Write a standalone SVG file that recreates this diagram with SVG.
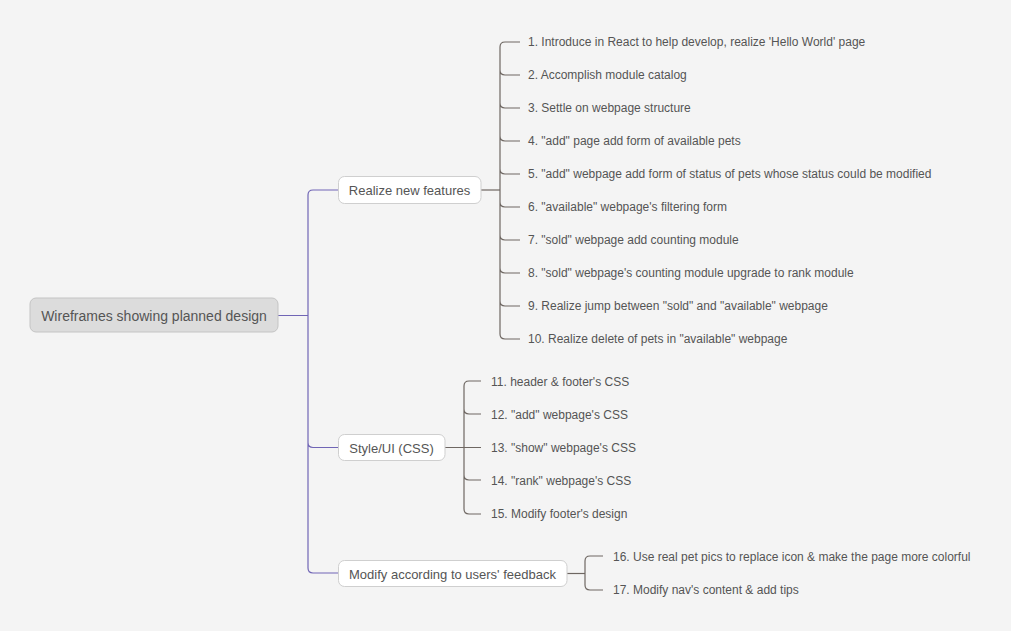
<svg xmlns="http://www.w3.org/2000/svg" width="1011" height="631" viewBox="0 0 1011 631">
<style>
text{font-family:"Liberation Sans",Arial,sans-serif;fill:#555;}
.item{font-size:12px;}
.sub{font-size:13px;text-anchor:middle;}
.root{font-size:14px;text-anchor:middle;}
.box{fill:#fff;stroke:#cfcfcf;stroke-width:1;}
.rootbox{fill:#dcdcdc;stroke:#c4c4c4;stroke-width:1;}
.p{fill:none;stroke:#7065b5;stroke-width:1.2;}
.g{fill:none;stroke:#6e6762;stroke-width:1.2;}
</style>
<rect width="1011" height="631" fill="#f4f4f4"/>
<g id="connectors">
<path class="p" d="M278 315.5 H308 M338 190 H313 Q308 190 308 195 V568 Q308 573 313 573 H338 M308 447.5 V442.5 Q308 447.5 313 447.5 H338"/>
<path class="g" d="M481 190 H500"/>
<path class="g" d="M520 42 H505 Q500 42 500 47 V334 Q500 339 505 339 H520 M500 75 V70 Q500 75 505 75 H520 M500 108 V103 Q500 108 505 108 H520 M500 141 V136 Q500 141 505 141 H520 M500 174 V169 Q500 174 505 174 H520 M500 207 V202 Q500 207 505 207 H520 M500 240 V235 Q500 240 505 240 H520 M500 273 V268 Q500 273 505 273 H520 M500 306 V301 Q500 306 505 306 H520"/>
<path class="g" d="M445 447.5 H481"/>
<path class="g" d="M481 381 H469 Q464 381 464 386 V509 Q464 514 469 514 H481 M464 414 V409 Q464 414 469 414 H481 M464 480 V475 Q464 480 469 480 H481"/>
<path class="g" d="M567 573.5 H585"/>
<path class="g" d="M603 556 H590 Q585 556 585 561 V585 Q585 590 590 590 H603"/>
</g>
<g id="root">
<rect class="rootbox" x="30" y="298" width="248" height="34" rx="6"/>
<text class="root" x="154" y="320.5">Wireframes showing planned design</text>
</g>
<g id="realize">
<rect class="box" x="338.5" y="176.5" width="142.5" height="27" rx="6"/>
<text class="sub" x="409.5" y="195">Realize new features</text>
</g>
<g id="style">
<rect class="box" x="338.5" y="434.5" width="106.5" height="26" rx="6"/>
<text class="sub" x="391.5" y="452.5">Style/UI (CSS)</text>
</g>
<g id="modify">
<rect class="box" x="338.5" y="560.5" width="228.5" height="26" rx="6"/>
<text class="sub" x="452.5" y="578.5">Modify according to users' feedback</text>
</g>
<g id="items1">
<text class="item" x="528" y="46">1. Introduce in React to help develop, realize 'Hello World' page</text>
<text class="item" x="528" y="79">2. Accomplish module catalog</text>
<text class="item" x="528" y="112">3. Settle on webpage structure</text>
<text class="item" x="528" y="145">4. "add" page add form of available pets</text>
<text class="item" x="528" y="178">5. "add" webpage add form of status of pets whose status could be modified</text>
<text class="item" x="528" y="211">6. "available" webpage's filtering form</text>
<text class="item" x="528" y="244">7. "sold" webpage add counting module</text>
<text class="item" x="528" y="277">8. "sold" webpage's counting module upgrade to rank module</text>
<text class="item" x="528" y="310">9. Realize jump between "sold" and "available" webpage</text>
<text class="item" x="528" y="343">10. Realize delete of pets in "available" webpage</text>
</g>
<g id="items2">
<text class="item" x="491" y="386">11. header &amp; footer's CSS</text>
<text class="item" x="491" y="419">12. "add" webpage's CSS</text>
<text class="item" x="491" y="452">13. "show" webpage's CSS</text>
<text class="item" x="491" y="485">14. "rank" webpage's CSS</text>
<text class="item" x="491" y="518">15. Modify footer's design</text>
</g>
<g id="items3">
<text class="item" x="613" y="561">16. Use real pet pics to replace icon &amp; make the page more colorful</text>
<text class="item" x="613" y="594">17. Modify nav's content &amp; add tips</text>
</g>
</svg>
